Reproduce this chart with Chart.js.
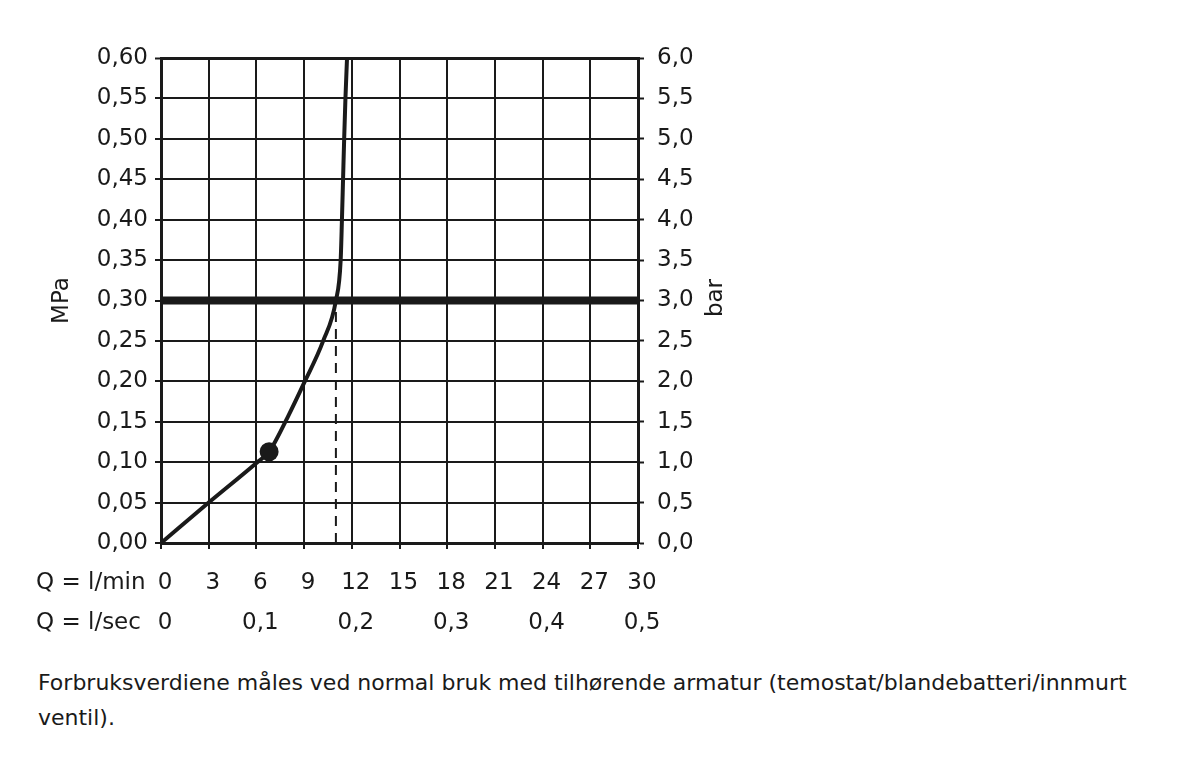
<!DOCTYPE html>
<html>
<head>
<meta charset="utf-8">
<script src="https://cdn.jsdelivr.net/npm/chart.js@4/dist/chart.umd.min.js"></script>
<style>
  html, body { margin: 0; padding: 0; background: #ffffff; }
  body { width: 1200px; height: 765px; position: relative; overflow: hidden; }
  #wrap { position: absolute; left: 0; top: 0; width: 1200px; height: 650px; }
  #caption { position: absolute; left: 38px; top: 665px; width: 1160px;
    font-family: "DejaVu Sans", sans-serif; font-size: 22px; line-height: 35px; color: #1a1a1a; }
</style>
</head>
<body>
<div id="wrap"><canvas id="c" width="1200" height="650"></canvas></div>
<div id="caption">Forbruksverdiene måles ved normal bruk med tilhørende armatur (temostat/blandebatteri/innmurt<br>ventil).</div>
<script>
// ---- data ----
const curveFlow     = [0, 3, 6, 6.8, 8, 9, 10.2, 11.0, 11.3, 11.38, 11.45, 11.52, 11.6, 11.7];
const curvePressure = [0, 0.05, 0.099, 0.113, 0.157, 0.198, 0.25, 0.30, 0.35, 0.40, 0.45, 0.50, 0.55, 0.60];
const markerFlow = [6.8];
const markerPressure = [0.113];
const limitPressure = [0.30, 0.30];
const limitFlow = [0, 30];
const dashFlow = [11, 11];
const dashPressure = [0, 0.30];

const mpaLabels = ['0,00','0,05','0,10','0,15','0,20','0,25','0,30','0,35','0,40','0,45','0,50','0,55','0,60'];
const barLabels = ['0,0','0,5','1,0','1,5','2,0','2,5','3,0','3,5','4,0','4,5','5,0','5,5','6,0'];
const lminLabels = ['0','3','6','9','12','15','18','21','24','27','30'];
const lsecLabels = ['0','0,1','0,2','0,3','0,4','0,5'];
const rowTitles = ['Q = l/min', 'Q = l/sec'];
const leftTitle = 'MPa';
const rightTitle = 'bar';

const FONT = '"DejaVu Sans", sans-serif';
const FS = 23;
const INK = '#1a1a1a';
const zip = (xs, ys) => xs.map((x, i) => ({ x, y: ys[i] }));

const extraText = {
  id: 'extraText',
  afterDraw(chart) {
    const ctx = chart.ctx;
    ctx.save();
    ctx.fillStyle = INK;
    ctx.font = FS + 'px ' + FONT;
    ctx.textBaseline = 'middle';
    ctx.textAlign = 'left';
    ctx.fillText(rowTitles[0], 36, 583);
    ctx.fillText(rowTitles[1], 36, 623);
    // right axis title, reading bottom-to-top
    ctx.translate(716, 298);
    ctx.rotate(-Math.PI / 2);
    ctx.textAlign = 'center';
    ctx.fillText(rightTitle, 0, 0);
    ctx.restore();
  }
};

new Chart(document.getElementById('c'), {
  type: 'line',
  data: {
    datasets: [
      { data: zip(markerFlow, markerPressure), type: 'scatter', pointRadius: 9.5, pointBackgroundColor: INK,
        pointBorderColor: INK, pointBorderWidth: 0, order: 0 },
      { data: zip(curveFlow, curvePressure), borderColor: INK, borderWidth: 4, pointRadius: 0,
        cubicInterpolationMode: 'monotone', order: 1 },
      { data: zip(limitFlow, limitPressure), borderColor: INK, borderWidth: 8, pointRadius: 0, order: 2 },
      { data: zip(dashFlow, dashPressure), borderColor: INK, borderWidth: 2, borderDash: [10, 7], pointRadius: 0, order: 3 }
    ]
  },
  options: {
    responsive: false,
    animation: false,
    layout: { padding: { top: 58, left: 0, right: 0, bottom: 0 } },
    plugins: { legend: { display: false }, tooltip: { enabled: false } },
    scales: {
      x: {
        type: 'linear', position: 'bottom', min: 0, max: 30, weight: 0,
        afterFit(s) { s.height = 60; },
        grid: { color: INK, lineWidth: 2, tickLength: 6, tickColor: INK, tickWidth: 2 },
        border: { color: INK, width: 3 },
        ticks: { stepSize: 3, padding: 20, labelOffset: 4, color: INK, font: { family: FONT, size: FS },
          maxRotation: 0, autoSkip: false, callback: (v, i) => lminLabels[i] }
      },
      x2: {
        type: 'linear', position: 'bottom', min: 0, max: 0.5, weight: 1,
        afterFit(s) { s.height = 47; },
        grid: { display: false, drawTicks: false },
        border: { display: false },
        ticks: { stepSize: 0.1, padding: 6, labelOffset: 4, color: INK, font: { family: FONT, size: FS },
          maxRotation: 0, autoSkip: false, callback: (v, i) => lsecLabels[i] }
      },
      y: {
        type: 'linear', position: 'left', min: 0, max: 0.6,
        afterFit(s) { s.width = 161; },
        grid: { color: INK, lineWidth: (c) => (c.tick && c.tick.value > 0.59 ? 3 : 2), tickLength: 6, tickColor: INK, tickWidth: 2 },
        border: { color: INK, width: 3 },
        title: { display: true, text: leftTitle, color: INK, font: { family: FONT, size: FS }, padding: { top: 48, bottom: 0 } },
        ticks: { stepSize: 0.05, padding: 7, color: INK, font: { family: FONT, size: FS }, autoSkip: false,
          callback: (v, i) => mpaLabels[i] }
      },
      y2: {
        type: 'linear', position: 'right', min: 0, max: 6,
        afterFit(s) { s.width = 562; },
        grid: { drawOnChartArea: false, color: INK, tickLength: 6, tickColor: INK, tickWidth: 2 },
        border: { color: INK, width: 3 },
        ticks: { stepSize: 0.5, padding: 13, color: INK, font: { family: FONT, size: FS }, autoSkip: false,
          callback: (v, i) => barLabels[i] }
      }
    }
  },
  plugins: [extraText]
});
</script>
</body>
</html>
